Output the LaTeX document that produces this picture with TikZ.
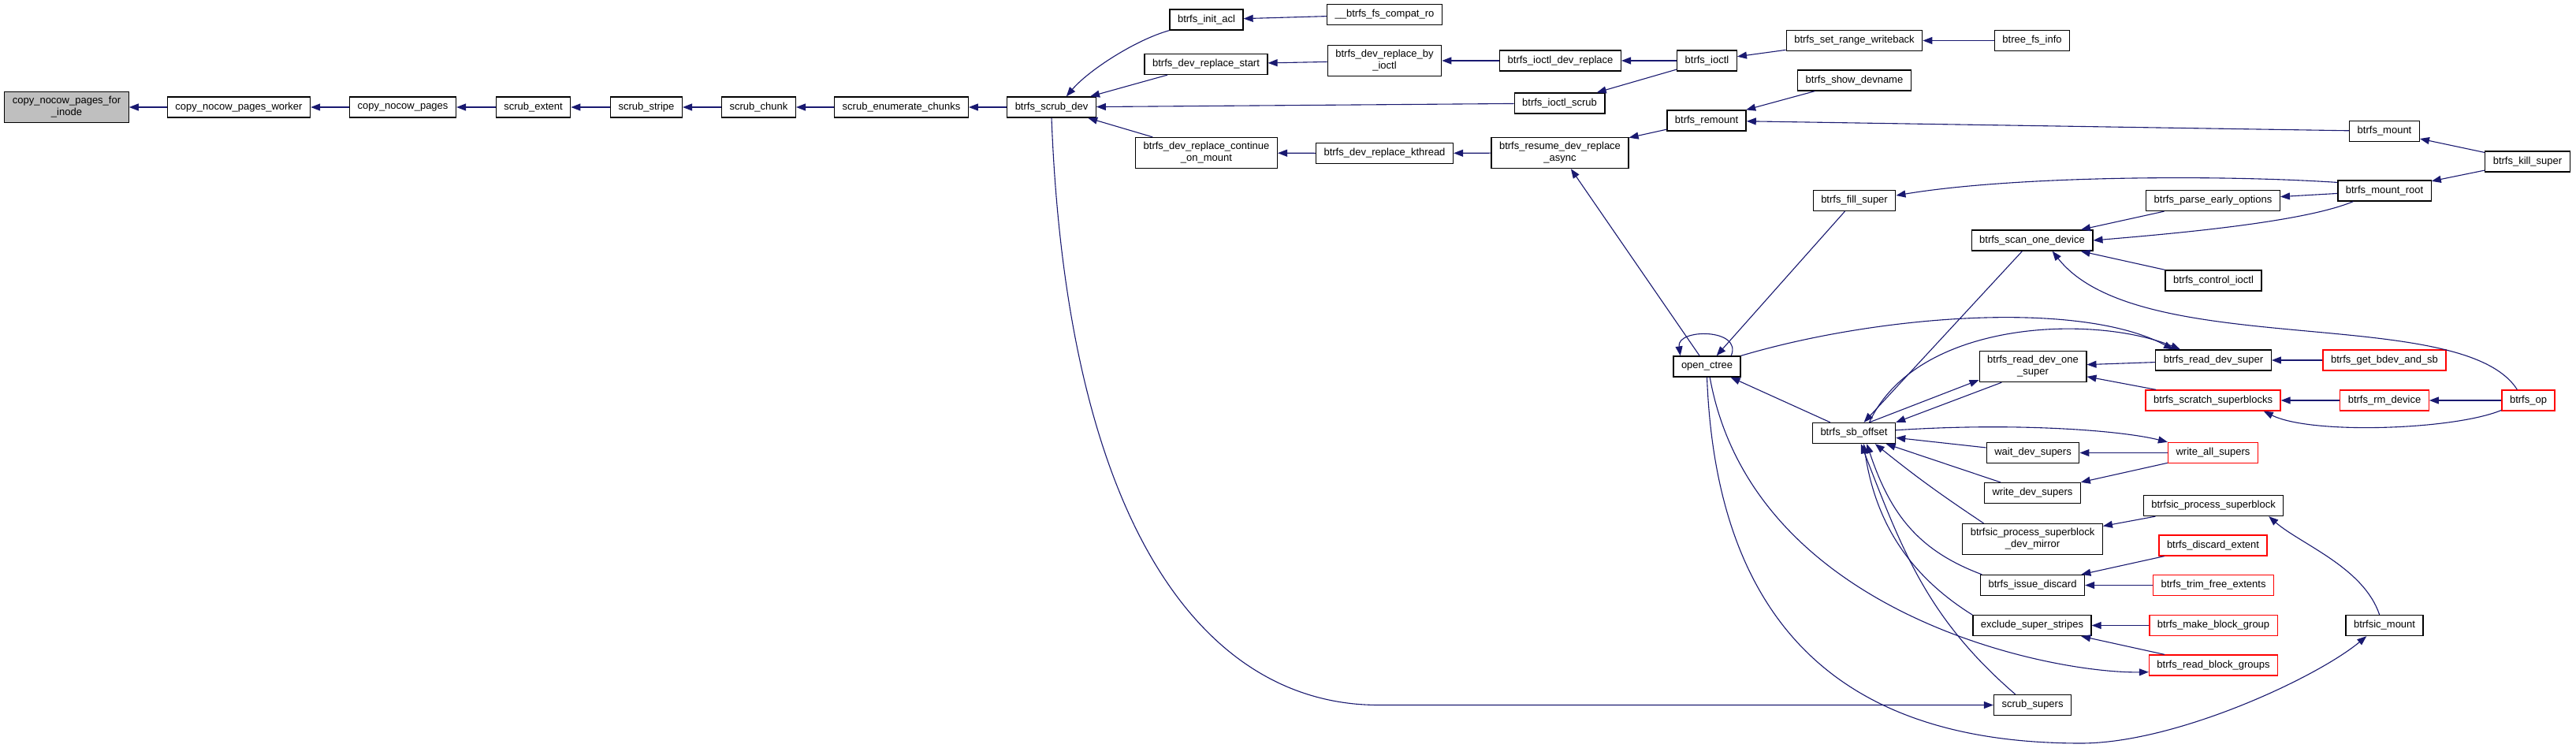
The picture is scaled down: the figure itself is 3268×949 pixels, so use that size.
\documentclass[tikz,border=0pt]{standalone}
\usepackage{fontspec}
\setmainfont{Liberation Sans}
\usepackage{tikz}
\usetikzlibrary{arrows.meta}
\definecolor{edgeblue}{HTML}{191970}
\definecolor{rootgray}{HTML}{BFBFBF}

\begin{document}
\begin{tikzpicture}[x=1pt, y=-1pt,
    fn/.style={rectangle, draw=black, line width=1.3pt, fill=white,
        inner xsep=10pt, inner ysep=6pt, minimum height=26pt, align=center,
        font=\fontsize{13}{15}\selectfont},
    rootfn/.style={fn, fill=rootgray},
    rd/.style={fn, draw=red},
    ar/.style={->, >={Triangle[length=12pt, width=9pt]}, draw=edgeblue, line width=1.1pt}]
\fill[white] (0,0) rectangle (3268,949);
\useasboundingbox (0,0) rectangle (3268,949);
\node[rootfn] (inode) at (84.5,136) {copy\_nocow\_pages\_for\\\_inode};
\node[fn] (worker) at (303,136) {copy\_nocow\_pages\_worker};
\node[fn] (cnp) at (511,136) {copy\_nocow\_pages};
\node[fn] (sext) at (676.5,136) {scrub\_extent};
\node[fn] (sstripe) at (820,136) {scrub\_stripe};
\node[fn] (schunk) at (962.5,136) {scrub\_chunk};
\node[fn] (senum) at (1143.5,136) {scrub\_enumerate\_chunks};
\node[fn] (sdev) at (1334,136) {btrfs\_scrub\_dev};
\node[fn] (initacl) at (1530.5,25) {btrfs\_init\_acl};
\node[fn] (compatro) at (1756.5,18.5) {\_\_btrfs\_fs\_compat\_ro};
\node[fn] (drstart) at (1530,81.5) {btrfs\_dev\_replace\_start};
\node[fn] (drbyioctl) at (1756.5,77) {btrfs\_dev\_replace\_by\\\_ioctl};
\node[fn] (ioctldr) at (1979.5,77) {btrfs\_ioctl\_dev\_replace};
\node[fn] (ioctl) at (2165.5,77) {btrfs\_ioctl};
\node[fn] (ioctlscrub) at (1978.5,131) {btrfs\_ioctl\_scrub};
\node[fn] (setrange) at (2352.5,51.5) {btrfs\_set\_range\_writeback};
\node[fn] (btreefs) at (2578,51.5) {btree\_fs\_info};
\node[fn] (showdev) at (2352.5,102) {btrfs\_show\_devname};
\node[fn] (remount) at (2165,153) {btrfs\_remount};
\node[fn] (mount) at (3025,166.5) {btrfs\_mount};
\node[fn] (killsuper) at (3206.5,205) {btrfs\_kill\_super};
\node[fn] (mountroot) at (3025,242) {btrfs\_mount\_root};
\node[fn] (drcont) at (1530.5,194) {btrfs\_dev\_replace\_continue\\\_on\_mount};
\node[fn] (drkthread) at (1756.5,194.5) {btrfs\_dev\_replace\_kthread};
\node[fn] (resume) at (1979,194) {btrfs\_resume\_dev\_replace\\\_async};
\node[fn] (fillsuper) at (2352.5,254.5) {btrfs\_fill\_super};
\node[fn] (parseopts) at (2807.5,254.5) {btrfs\_parse\_early\_options};
\node[fn] (scandev) at (2578,305) {btrfs\_scan\_one\_device};
\node[fn] (ctlioctl) at (2808,356) {btrfs\_control\_ioctl};
\node[fn] (octree) at (2165.5,465) {open\_ctree};
\node[fn] (readone) at (2579,465) {btrfs\_read\_dev\_one\\\_super};
\node[fn] (readsuper) at (2808,457) {btrfs\_read\_dev\_super};
\node[rd] (getbdev) at (3025,457) {btrfs\_get\_bdev\_and\_sb};
\node[rd] (scratch) at (2807.5,508) {btrfs\_scratch\_superblocks};
\node[rd] (rmdev) at (3025,508) {btrfs\_rm\_device};
\node[rd] (btrfsop) at (3207.5,508) {btrfs\_op};
\node[fn] (sboffset) at (2352,549.5) {btrfs\_sb\_offset};
\node[fn] (waitsup) at (2579,574.5) {wait\_dev\_supers};
\node[rd] (writeall) at (2807.5,574.5) {write\_all\_supers};
\node[fn] (writesup) at (2578.5,625.5) {write\_dev\_supers};
\node[fn] (procsb) at (2808,641.5) {btrfsic\_process\_superblock};
\node[fn] (procsbdm) at (2578.5,684) {btrfsic\_process\_superblock\\\_dev\_mirror};
\node[rd] (discext) at (2807.5,692) {btrfs\_discard\_extent};
\node[fn] (issuedisc) at (2578.5,742.5) {btrfs\_issue\_discard};
\node[rd] (trimfree) at (2808,742.5) {btrfs\_trim\_free\_extents};
\node[fn] (exclude) at (2578,793.5) {exclude\_super\_stripes};
\node[rd] (mkbg) at (2808,793.5) {btrfs\_make\_block\_group};
\node[rd] (readbg) at (2808,844) {btrfs\_read\_block\_groups};
\node[fn] (icmount) at (3025,793.5) {btrfsic\_mount};
\node[fn] (scrubsup) at (2578.5,894.5) {scrub\_supers};
\coordinate (dip) at (2640,943);
\draw[ar] (worker) -- (inode);
\draw[ar] (cnp) -- (worker);
\draw[ar] (sext) -- (cnp);
\draw[ar] (sstripe) -- (sext);
\draw[ar] (schunk) -- (sstripe);
\draw[ar] (senum) -- (schunk);
\draw[ar] (sdev) -- (senum);
\draw[ar] (initacl.south west) .. controls +(-43,12) and +(28,-33) .. (sdev.36);
\draw[ar] (drstart) -- (sdev);
\draw[ar] (ioctlscrub) -- (sdev);
\draw[ar] (drcont) -- (sdev);
\draw[ar] (sdev.south) .. controls +(20,520) and +(-220,0) .. ([xshift=-780pt]scrubsup.west) -- (scrubsup.west);
\draw[ar] (compatro) -- (initacl);
\draw[ar] (drbyioctl) -- (drstart);
\draw[ar] (ioctldr) -- (drbyioctl);
\draw[ar] (ioctl) -- (ioctldr);
\draw[ar] (ioctl) -- (ioctlscrub);
\draw[ar] (setrange) -- (ioctl);
\draw[ar] (btreefs) -- (setrange);
\draw[ar] (drkthread) -- (drcont);
\draw[ar] (resume) -- (drkthread);
\draw[ar] (remount) -- (resume);
\draw[ar] (octree) -- (resume);
\draw[ar] (showdev) -- (remount);
\draw[ar] (mount) -- (remount);
\draw[ar] (killsuper) -- (mount);
\draw[ar] (killsuper) -- (mountroot);
\draw[ar] (mountroot.170) .. controls +(-150,-10) and +(150,-25) .. (fillsuper.7);
\draw[ar] (mountroot) -- (parseopts);
\draw[ar] (mountroot.-161) .. controls +(-60,25) and +(120,-10) .. (scandev.east);
\draw[ar] (parseopts) -- (scandev);
\draw[ar] (ctlioctl) -- (scandev);
\draw[ar] (btrfsop.136) .. controls +(-70,-110) and +(110,140) .. (scandev.-28);
\draw[ar] (fillsuper) -- (octree);
\draw[ar] (octree.24) .. controls +(15,-35) and +(-5,-35) .. (octree.158);
\draw[ar] (sboffset) -- (octree);
\draw[ar] (octree.north east) .. controls +(175,-52) and +(-118,-63) .. (readsuper.165);
\draw[ar] (octree.-75) .. controls +(54,300) and +(-126,2) .. (readbg.-174);
\draw[ar] (octree.south) .. controls +(14,372) and +(-240,0) .. (dip) .. controls +(120,0) and +(-64,53) .. (icmount.-149);
\draw[ar] (scandev) -- (sboffset);
\draw[ar] (readone.-153) -- (sboffset.north east);
\draw[ar] (sboffset.35) -- (readone.-166);
\draw[ar] (sboffset.35) .. controls +(60,-130) and +(-110,-45) .. (readsuper.162);
\draw[ar] (readsuper) -- (readone);
\draw[ar] (scratch) -- (readone);
\draw[ar] (getbdev) -- (readsuper);
\draw[ar] (rmdev) -- (scratch);
\draw[ar] (btrfsop) -- (rmdev);
\draw[ar] (btrfsop.-160) .. controls +(-60,25) and +(60,30) .. (scratch.-12);
\draw[ar] (sboffset.4) .. controls +(150,-10) and +(-60,-15) .. (writeall.north west);
\draw[ar] (waitsup) -- (sboffset);
\draw[ar] (writeall) -- (waitsup);
\draw[ar] (writeall) -- (writesup);
\draw[ar] (writesup) -- (sboffset);
\draw[ar] (procsbdm.162) .. controls +(-60,-40) and +(50,40) .. (sboffset.-27);
\draw[ar] (procsb) -- (procsbdm);
\draw[ar] (icmount.115) .. controls +(-20,-60) and +(40,35) .. (procsb.-11);
\draw[ar] (issuedisc.168) .. controls +(-80,-30) and +(30,90) .. (sboffset.-40);
\draw[ar] (discext) -- (issuedisc);
\draw[ar] (trimfree) -- (issuedisc);
\draw[ar] (exclude.170) .. controls +(-80,-50) and +(15,100) .. (sboffset.-48);
\draw[ar] (mkbg) -- (exclude);
\draw[ar] (readbg) -- (exclude);
\draw[ar] (scrubsup.148) .. controls +(-111,-96) and +(53,137) .. (sboffset.-57);
\end{tikzpicture}
\end{document}
